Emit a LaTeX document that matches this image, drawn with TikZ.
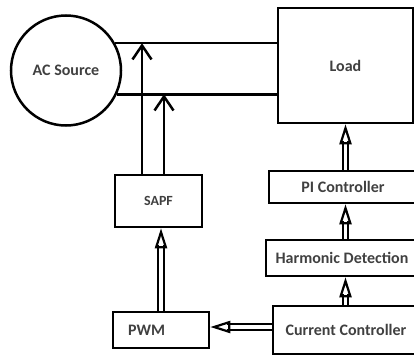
\documentclass[tikz,border=0pt]{standalone}
\usepackage{fontspec}
\setmainfont{Carlito}
\usetikzlibrary{arrows.meta,calc}

\tikzset{
  block/.style={draw, line width=2.5pt, text=black!75,
    font=\fontsize{16}{18}\selectfont\bfseries},
  wire/.style={line width=2.5pt},
  sig/.style={line width=2.5pt, -{Straight Barb[length=14pt,width=19pt]}},
  shaft/.style={double, double distance=3.2pt, line width=2.3pt},
  hollow/.style={line width=2.2pt, -{Triangle[open,length=20pt,width=12pt]}}
}
% double shaft with a hollow head
\newcommand{\dblarrow}[2]{%
  \draw[shaft, shorten >=17pt] #1 -- #2;
  \draw[hollow] ($#2!18pt!#1$) -- #2;}

\begin{document}
\begin{tikzpicture}[x=1pt,y=-1pt]
\useasboundingbox (0,0) rectangle (414,356);

\node[block, circle, minimum size=110pt] (src) at (66,70.5) {AC Source};
\node[block, minimum width=135pt, minimum height=115pt] (load) at (345.5,65.5) {Load};
\node[block, minimum width=87pt, minimum height=52pt,
  font=\fontsize{14}{16}\selectfont\bfseries] (sapf) at (158.5,201) {SAPF};
\node[block, minimum width=96pt, minimum height=36pt,
  text width=66pt, inner xsep=15pt] (pwm) at (161,330) {PWM};
\node[block, minimum width=148pt, minimum height=32pt] (pi) at (343,187) {PI Controller};
\node[block, minimum width=152pt, minimum height=36pt] (hd) at (342,258) {Harmonic Detection};
\node[block, minimum width=146pt, minimum height=48pt] (cc) at (346,330) {Current Controller};

% supply lines
\draw[wire] (src.29) -- (src.29 -| load.west);
\draw[wire] (src.-25) -- (src.-25 -| load.west);

% injection from the filter
\coordinate (up1) at ([xshift=-16.5pt]sapf.north);
\coordinate (up2) at ([xshift=5.5pt]sapf.north);
\draw[sig] (up1) -- (up1 |- src.29);
\draw[sig] (up2) -- (up2 |- src.-25);

% control chain
\dblarrow{(pwm.north)}{(pwm.north |- sapf.south)}
\dblarrow{(load.south |- cc.north)}{(load.south |- hd.south)}
\dblarrow{(load.south |- hd.north)}{(load.south |- pi.south)}
\dblarrow{(load.south |- pi.north)}{(load.south)}
\dblarrow{([yshift=3pt]cc.west)}{([yshift=3pt]cc.west -| pwm.east)}
\end{tikzpicture}
\end{document}
